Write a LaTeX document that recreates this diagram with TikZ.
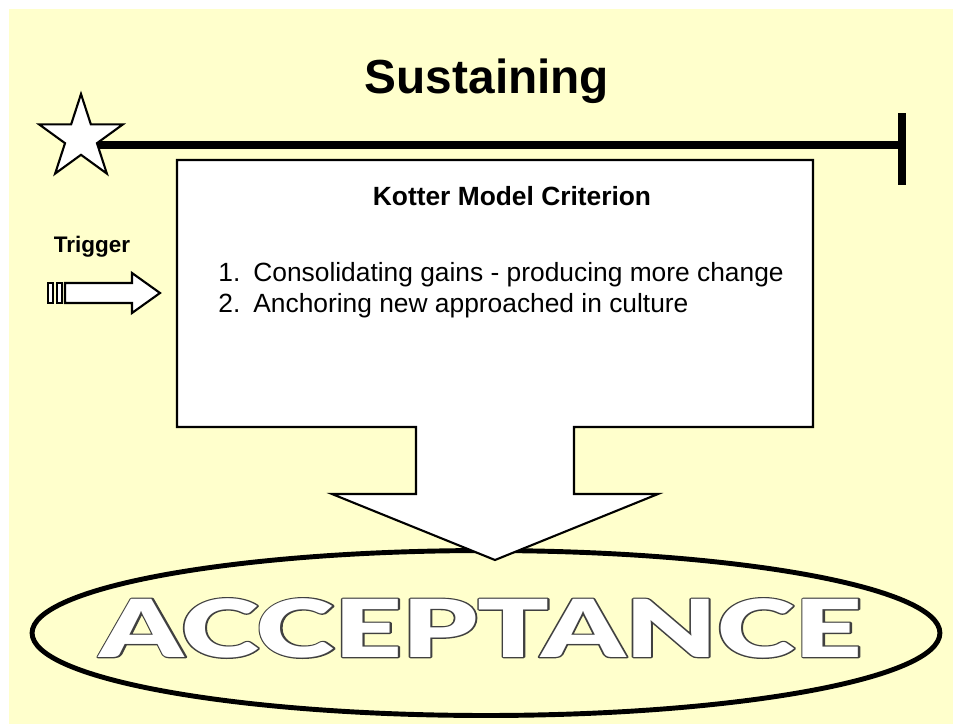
\documentclass[tikz,border=0pt]{standalone}
\usepackage{fontspec}
\setmainfont{Liberation Sans}
\newfontfamily\heavyfont{Lato Black}
\usetikzlibrary{shapes.geometric}
\definecolor{paper}{HTML}{FFFFCC}
\definecolor{rim}{gray}{0.25}
\newcommand{\fattext}[1]{\special{pdf:literal direct 1.4 w 1 j 2 Tr}#1\special{pdf:literal direct 0 Tr}}
\tikzset{
  outline/.style={draw=black, fill=white, line width=1.2pt, line join=miter},
  listtext/.style={font=\fontsize{15}{17.6}\selectfont, inner sep=0pt, anchor=base west},
  bigword/.style={font=\heavyfont\fontsize{45.5}{48}\selectfont, inner sep=0pt},
}

\begin{document}
\begin{tikzpicture}[x=0.02cm, y=-0.02cm]
        \useasboundingbox (0,0) rectangle (953,724);
        \fill [paper] (9,9) rectangle (953,724);
        % title
        \node (title) [anchor=base, inner sep=0pt] at (487,93)
          {\bfseries\fontsize{27.2}{30}\selectfont Sustaining};
        % timeline
        \coordinate (startpt) at (81,138);
        \coordinate (finish) at (902,145);
        \draw [line width=4.5pt] (startpt |- finish) -- (finish);
        \draw [line width=4pt] (finish) ++(0,-32) -- ++(0,72);
        \node (start) [star, star points=5, star point ratio=2.618, minimum size=1.76cm,
          inner sep=0pt, outline] at (startpt) {};
        % acceptance
        \node (accept) [ellipse, draw, line width=2.8pt, minimum width=18.16cm,
          minimum height=3.3cm, inner sep=0pt] at (486,633) {};
        \node (accrim) [bigword] at (481,628)
          {\scalebox{1.48}[1]{\textcolor{rim}{\fattext{ACCEPTANCE}}}};
        \node (acctext) [bigword] at (accrim.center)
          {\scalebox{1.48}[1]{\textcolor{white}{ACCEPTANCE}}};
        % criterion box with down arrow
        \draw [outline] (177,160) -- (813,160) -- (813,427) -- (574,427) -- (574,494)
          -- (658,494) -- (495,560) -- (332,494) -- (416,494) -- (416,427)
          -- (177,427) -- cycle;
        \node (head) [anchor=base, inner sep=0pt] at (512,205)
          {\bfseries\fontsize{15}{17.6}\selectfont Kotter Model Criterion};
        \node (num1) [listtext] at (218,281) {1.};
        \node (item1) [listtext] at (253,281) {Consolidating gains - producing more change};
        \node (num2) [listtext] at (218,312) {2.};
        \node (item2) [listtext] at (253,312) {Anchoring new approached in culture};
        % trigger
        \node (trigger) [anchor=base, inner sep=0pt] at (92,252)
          {\bfseries\fontsize{12.8}{15}\selectfont Trigger};
        \draw [outline] (48,283) rectangle (53,303);
        \draw [outline] (57,283) rectangle (62,303);
        \draw [outline] (65,283) -- (132,283) -- (132,273) -- (160,293) -- (132,313)
          -- (132,303) -- (65,303) -- cycle;
      \end{tikzpicture}
\end{document}
